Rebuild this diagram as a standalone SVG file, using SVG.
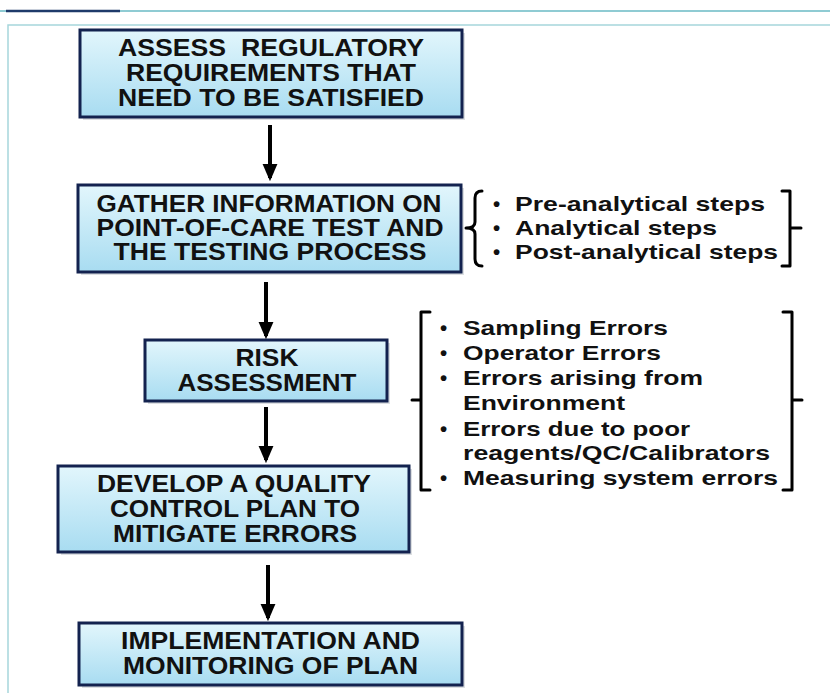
<svg xmlns="http://www.w3.org/2000/svg" width="830" height="693" viewBox="0 0 830 693">
<defs>
<linearGradient id="boxFill" x1="0" y1="0" x2="0" y2="1">
<stop offset="0" stop-color="#e2f6fc"/>
<stop offset="1" stop-color="#a8dcf1"/>
</linearGradient>
<marker id="arrow" markerWidth="4.4" markerHeight="3.8" refX="3.6" refY="1.9" orient="auto" markerUnits="strokeWidth">
<path d="M0,0 L4.4,1.9 L0,3.8 Z" fill="#000"/>
</marker>
</defs>
<style>
.box{fill:url(#boxFill);stroke:#13224f;stroke-width:3}
.shadow{fill:#9aa3ad;opacity:0.35}
.bt{font-family:"Liberation Sans",Arial,sans-serif;font-weight:bold;font-size:23px;fill:#111;text-anchor:middle}
.lt{font-family:"Liberation Sans",Arial,sans-serif;font-weight:bold;font-size:20.5px;fill:#111}
.br{fill:none;stroke:#000;stroke-width:3;stroke-linejoin:round;stroke-linecap:round}
.con{stroke:#000;stroke-width:4;fill:none;marker-end:url(#arrow)}
.frame{fill:none;stroke:#a6d6dc;stroke-width:1.5}
</style>
<rect width="830" height="693" fill="#fff"/>
<line x1="0" y1="11" x2="830" y2="11" stroke="#8fcbd3" stroke-width="2"/>
<line x1="6" y1="11" x2="120" y2="11" stroke="#1e3a6a" stroke-width="2.5"/>
<path class="frame" d="M8,693 L8,25 L830,25"/>

<g id="node-assess">
<rect class="shadow" x="83" y="33" width="382" height="87"/>
<rect class="box" x="80" y="30" width="382" height="87"/>
<text class="bt" x="271" y="56" textLength="306" lengthAdjust="spacingAndGlyphs">ASSESS&#160; REGULATORY</text>
<text class="bt" x="271" y="81" textLength="290" lengthAdjust="spacingAndGlyphs">REQUIREMENTS THAT</text>
<text class="bt" x="271" y="106" textLength="306" lengthAdjust="spacingAndGlyphs">NEED TO BE SATISFIED</text>
</g>

<g id="node-gather">
<rect class="shadow" x="81" y="188" width="383" height="87"/>
<rect class="box" x="78" y="185" width="383" height="87"/>
<text class="bt" x="269" y="212" textLength="345" lengthAdjust="spacingAndGlyphs">GATHER INFORMATION ON</text>
<text class="bt" x="270" y="236" textLength="347" lengthAdjust="spacingAndGlyphs">POINT-OF-CARE TEST AND</text>
<text class="bt" x="270" y="260" textLength="313" lengthAdjust="spacingAndGlyphs">THE TESTING PROCESS</text>
</g>

<g id="node-risk">
<rect class="shadow" x="148" y="343" width="242" height="61"/>
<rect class="box" x="145" y="340" width="242" height="61"/>
<text class="bt" x="267" y="366" textLength="63" lengthAdjust="spacingAndGlyphs">RISK</text>
<text class="bt" x="267" y="391" textLength="179" lengthAdjust="spacingAndGlyphs">ASSESSMENT</text>
</g>

<g id="node-develop">
<rect class="shadow" x="61" y="469" width="351" height="86"/>
<rect class="box" x="58" y="466" width="351" height="86"/>
<text class="bt" x="234" y="492" textLength="274" lengthAdjust="spacingAndGlyphs">DEVELOP A QUALITY</text>
<text class="bt" x="235" y="517" textLength="250" lengthAdjust="spacingAndGlyphs">CONTROL PLAN TO</text>
<text class="bt" x="235" y="542" textLength="244" lengthAdjust="spacingAndGlyphs">MITIGATE ERRORS</text>
</g>

<g id="node-implement">
<rect class="shadow" x="82" y="626" width="383" height="62"/>
<rect class="box" x="79" y="623" width="383" height="62"/>
<text class="bt" x="270.5" y="649" textLength="299" lengthAdjust="spacingAndGlyphs">IMPLEMENTATION AND</text>
<text class="bt" x="270.5" y="674" textLength="295" lengthAdjust="spacingAndGlyphs">MONITORING OF PLAN</text>
</g>

<g id="note-steps">
<path class="br" d="M482,191 Q475,191 475,198 L475,222 Q475,228 466,228 Q475,228 475,234 L475,259 Q475,266 482,266"/>
<path class="br" d="M782,191 L790,191 L790,266 L782,266 M790,228 L801,228"/>
<text class="lt" x="493" y="211">•</text>
<text class="lt" x="515" y="211" textLength="250" lengthAdjust="spacingAndGlyphs">Pre-analytical steps</text>
<text class="lt" x="493" y="235">•</text>
<text class="lt" x="515" y="235" textLength="202" lengthAdjust="spacingAndGlyphs">Analytical steps</text>
<text class="lt" x="493" y="259">•</text>
<text class="lt" x="515" y="259" textLength="263" lengthAdjust="spacingAndGlyphs">Post-analytical steps</text>
</g>

<g id="note-errors">
<path class="br" d="M430,312 L421,312 L421,490 L430,490 M421,400 L412,400"/>
<path class="br" d="M783,312 L792,312 L792,490 L783,490 M792,400 L802,400"/>
<text class="lt" x="440" y="335">•</text>
<text class="lt" x="463" y="335" textLength="205" lengthAdjust="spacingAndGlyphs">Sampling Errors</text>
<text class="lt" x="440" y="360">•</text>
<text class="lt" x="463" y="360" textLength="198" lengthAdjust="spacingAndGlyphs">Operator Errors</text>
<text class="lt" x="440" y="385">•</text>
<text class="lt" x="463" y="385" textLength="240" lengthAdjust="spacingAndGlyphs">Errors arising from</text>
<text class="lt" x="463" y="410" textLength="162" lengthAdjust="spacingAndGlyphs">Environment</text>
<text class="lt" x="440" y="436">•</text>
<text class="lt" x="463" y="436" textLength="227" lengthAdjust="spacingAndGlyphs">Errors due to poor</text>
<text class="lt" x="463" y="460" textLength="307" lengthAdjust="spacingAndGlyphs">reagents/QC/Calibrators</text>
<text class="lt" x="440" y="485">•</text>
<text class="lt" x="463" y="485" textLength="315" lengthAdjust="spacingAndGlyphs">Measuring system errors</text>
</g>

<g id="connectors">
<line class="con" x1="270" y1="125" x2="270" y2="178"/>
<line class="con" x1="266" y1="282" x2="266" y2="336"/>
<line class="con" x1="266" y1="407" x2="266" y2="460"/>
<line class="con" x1="268" y1="565" x2="268" y2="618"/>
</g>
</svg>
